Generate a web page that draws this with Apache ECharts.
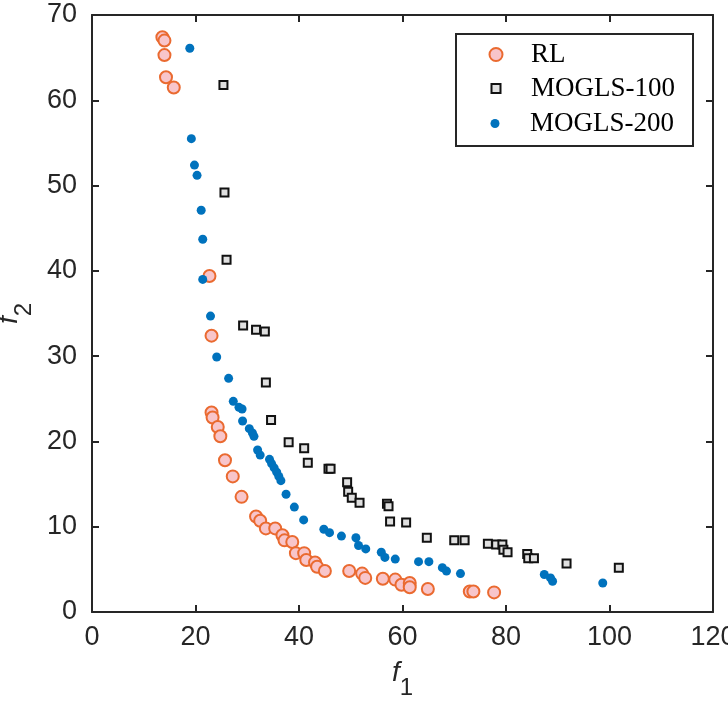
<!DOCTYPE html>
<html>
<head>
<meta charset="utf-8">
<script src="https://cdn.jsdelivr.net/npm/echarts@6/dist/echarts.min.js"></script>
<style>
  html, body { margin: 0; padding: 0; background: #fff; }
  #main { width: 728px; height: 705px; }
</style>
</head>
<body>
<div id="main"></div>
<script>
// f1 / f2 values
var rlF1 = [13.6, 14.0, 14.0, 14.3, 15.8, 22.7, 23.1, 23.1, 23.3, 24.3, 24.8, 25.7, 27.2, 28.9, 31.7, 32.5, 33.6, 35.4, 36.8, 37.2, 38.7, 39.4, 41.0, 41.4, 43.1, 43.5, 45.0, 49.7, 52.2, 52.8, 56.2, 58.6, 59.8, 61.4, 61.4, 64.9, 73.0, 73.7, 77.7];
var rlF2 = [67.4, 67.0, 65.3, 62.7, 61.5, 39.4, 32.4, 23.4, 22.8, 21.7, 20.6, 17.8, 15.9, 13.5, 11.2, 10.7, 9.8, 9.8, 9.0, 8.4, 8.2, 6.9, 6.9, 6.1, 5.8, 5.3, 4.8, 4.8, 4.5, 4.0, 3.9, 3.8, 3.2, 3.4, 2.9, 2.7, 2.4, 2.4, 2.3];

var m100F1 = [25.4, 25.6, 26.0, 29.2, 31.7, 33.4, 33.6, 34.6, 38.0, 41.0, 41.7, 45.7, 46.1, 49.3, 49.5, 50.2, 51.7, 57.0, 57.3, 57.6, 60.7, 64.7, 70.0, 72.0, 76.5, 78.1, 79.3, 79.5, 80.3, 84.1, 84.3, 85.4, 91.7, 101.8];
var m100F2 = [61.8, 49.2, 41.3, 33.6, 33.1, 32.9, 26.9, 22.5, 19.9, 19.2, 17.5, 16.8, 16.8, 15.2, 14.1, 13.4, 12.8, 12.7, 12.4, 10.6, 10.5, 8.7, 8.4, 8.4, 8.0, 7.9, 7.9, 7.3, 7.0, 6.8, 6.3, 6.3, 5.7, 5.2];

var m200F1 = [18.9, 19.2, 19.8, 20.3, 21.1, 21.4, 21.4, 22.9, 24.1, 26.4, 27.3, 28.4, 29.0, 29.1, 30.4, 31.0, 31.3, 32.0, 32.5, 34.3, 34.7, 35.2, 35.7, 36.1, 36.5, 37.5, 39.1, 40.9, 44.8, 45.9, 48.2, 51.0, 51.5, 52.9, 55.9, 56.6, 58.6, 63.1, 65.1, 67.7, 68.5, 71.2, 87.4, 88.6, 89.0, 98.7];
var m200F2 = [66.1, 55.5, 52.4, 51.2, 47.1, 43.7, 39.0, 34.7, 29.9, 27.4, 24.7, 24.0, 23.8, 22.4, 21.5, 21.0, 20.6, 19.0, 18.4, 17.9, 17.4, 16.9, 16.4, 15.9, 15.4, 13.8, 12.3, 10.8, 9.7, 9.3, 8.9, 8.7, 7.8, 7.4, 7.0, 6.4, 6.2, 5.9, 5.9, 5.2, 4.8, 4.5, 4.4, 4.0, 3.6, 3.4];

var seriesNames = ['RL', 'MOGLS-100', 'MOGLS-200'];
var xTicks = { min: 0, max: 120, interval: 20 };
var yTicks = { min: 0, max: 70, interval: 10 };

function pairs(a, b) {
  return a.map(function (v, i) { return [v, b[i]]; });
}

var axisColor = '#262626';
var numFont = '"Liberation Sans Narrow", "Liberation Sans", Arial, sans-serif';
var serifFont = '"Liberation Serif", "Times New Roman", serif';

var lineStyle = { color: axisColor, width: 2 };

function baseX(pos, showLabel) {
  return {
    type: 'value', position: pos,
    min: xTicks.min, max: xTicks.max, interval: xTicks.interval,
    axisLine: { show: true, onZero: false, lineStyle: lineStyle },
    axisTick: { show: true, inside: true, length: 7, lineStyle: lineStyle },
    axisLabel: { show: showLabel, color: axisColor, fontFamily: numFont, fontSize: 27, margin: 12 },
    splitLine: { show: false }
  };
}
function baseY(pos, showLabel) {
  return {
    type: 'value', position: pos,
    min: yTicks.min, max: yTicks.max, interval: yTicks.interval,
    axisLine: { show: true, onZero: false, lineStyle: lineStyle },
    axisTick: { show: true, inside: true, length: 7, lineStyle: lineStyle },
    axisLabel: { show: showLabel, color: axisColor, fontFamily: numFont, fontSize: 27, margin: 15 },
    splitLine: { show: false }
  };
}

var nameStyle = {
  rich: {
    i: { fontFamily: numFont, fontStyle: 'italic', fontSize: 28, color: axisColor },
    s: { fontFamily: numFont, fontSize: 24, color: axisColor, padding: [30, 0, 0, 0] }
  }
};

var xMain = baseX('bottom', true);
xMain.name = '{i|f}{s|1}';
xMain.nameLocation = 'middle';
xMain.nameGap = 34;
xMain.nameTextStyle = nameStyle;

var yMain = baseY('left', true);
yMain.name = '{i|f}{s|2}';
yMain.nameLocation = 'middle';
yMain.nameGap = 56;
yMain.nameMoveOverlap = false;
yMain.nameTextStyle = nameStyle;

function legendRow(name, size, top) {
  var left = 495 - size / 2;
  return {
    data: [name], left: left, top: top, padding: 0,
    itemWidth: size, itemHeight: size,
    textStyle: { color: '#000', fontFamily: serifFont, fontSize: 27, padding: [0, 0, 0, 530 - (left + size + 5)] }
  };
}

var option = {
  animation: false,
  backgroundColor: '#fff',
  grid: { left: 92, right: 15, top: 15, bottom: 93, outerBoundsMode: 'none', containLabel: false },
  xAxis: [xMain, baseX('top', false)],
  yAxis: [yMain, baseY('right', false)],
  legend: [
    legendRow(seriesNames[0], 13, 41),
    legendRow(seriesNames[1], 9, 75),
    legendRow(seriesNames[2], 9, 110)
  ],
  graphic: [{
    type: 'rect', left: 455, top: 33,
    shape: { width: 237, height: 112 },
    style: { fill: 'rgba(0,0,0,0)', stroke: axisColor, lineWidth: 2 },
    z: 10
  }],
  series: [
    {
      name: seriesNames[0], type: 'scatter', symbol: 'circle', symbolSize: 12,
      itemStyle: { color: '#F8C5CA', borderColor: '#EA6A30', borderWidth: 2, opacity: 1 },
      data: pairs(rlF1, rlF2), z: 2
    },
    {
      name: seriesNames[1], type: 'scatter', symbol: 'rect', symbolSize: 8,
      itemStyle: { color: '#E0E0E0', borderColor: '#111', borderWidth: 2, opacity: 1 },
      data: pairs(m100F1, m100F2), z: 3
    },
    {
      name: seriesNames[2], type: 'scatter', symbol: 'circle', symbolSize: 9,
      itemStyle: { color: '#0072BD', opacity: 1 },
      data: pairs(m200F1, m200F2), z: 4
    }
  ]
};

var chart = echarts.init(document.getElementById('main'));
chart.setOption(option);
</script>
</body>
</html>
